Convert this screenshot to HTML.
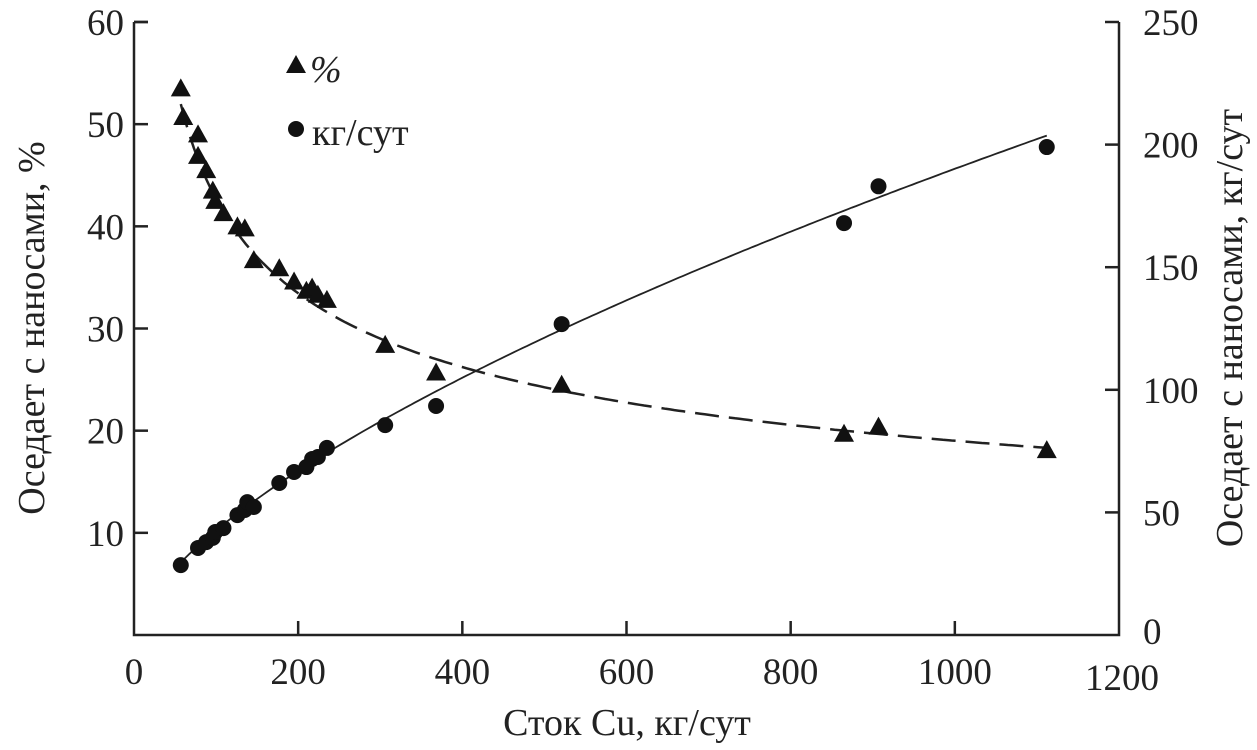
<!DOCTYPE html>
<html><head><meta charset="utf-8"><style>
html,body{margin:0;padding:0;background:#fff;}
svg{display:block;font-family:"Liberation Serif",serif;}
</style></head><body>
<svg id="chart" width="1257" height="750"></svg>
<script>
const xTicks=[0,200,400,600,800,1000,1200];
const yLeftTicks=[10,20,30,40,50,60];
const yRightTicks=[0,50,100,150,200,250];
const triX=[57,60,78,78,88,96,99,109,126,135,146,177,195,210,217,224,235,306,368,521,865,907,1112];
const triY=[53.4,50.6,48.9,46.8,45.4,43.4,42.4,41.2,39.9,39.7,36.6,35.8,34.5,33.6,33.9,33.2,32.7,28.3,25.6,24.4,19.6,20.3,18.0];
const cirX=[57,78,88,96,99,109,126,135,138,146,177,195,210,217,224,235,306,368,521,865,907,1112];
const cirY=[28.5,35.5,37.9,39.6,42,43.6,48.9,51,54.2,52.2,62,66.5,68.5,71.8,72.6,76.3,85.6,93.4,126.8,168,183,199];
const fitA=214.8, fitB=-0.351, fitMin=57, fitMax=1112;

const NS="http://www.w3.org/2000/svg";
const svg=document.getElementById('chart');
const X0=134,X1=1119,YT=22,YB=635;
const sx=v=>X0+(v/1200)*(X1-X0);
const syL=v=>YB-(v/60)*(YB-YT);
const syR=v=>YB-(v/250)*(YB-YT);
function el(t,a,p){const e=document.createElementNS(NS,t);for(const k in a)e.setAttribute(k,a[k]);(p||svg).appendChild(e);return e;}
function txt(s,a){const e=el('text',a);e.textContent=s;return e;}

let ax=el('path',{d:`M${X0},${YT}H${X0}V${YB}H${X1}V${YT}`,fill:'none',stroke:'#222','stroke-width':2.5});


let ax2=el('path',{d:`M${X0},${YT}h14M${X1},${YT}h-14`,fill:'none',stroke:'#222','stroke-width':2.5});



xTicks.forEach(v=>{
 const x=sx(v);
 if(v>0&&v<1200){let t=el('line',{x1:x,x2:x,y1:YB,y2:YB-14,stroke:'#222','stroke-width':2.5});
 
 }
 let l=txt(String(v),{x:v===1200?x+3:x,y:v===1200?690:684,'font-size':37,'text-anchor':'middle',fill:'#222'});
 
 
});
yLeftTicks.forEach(v=>{
 const y=syL(v);
 let t=el('line',{x1:X0,x2:X0+14,y1:y,y2:y,stroke:'#222','stroke-width':2.5});
 
 
 let l=txt(String(v),{x:124,y:y+13,'font-size':37,'text-anchor':'end',fill:'#222'});
 
 
});
yRightTicks.forEach(v=>{
 const y=syR(v);
 if(v>0&&v<250){let t=el('line',{x1:X1,x2:X1-14,y1:y,y2:y,stroke:'#222','stroke-width':2.5});
 
 }
 let l=txt(String(v),{x:1143,y:y+13+(v===0?-4:0),'font-size':37,'text-anchor':'start',fill:'#222'});
 
 
});
let xt=txt('Сток Cu, кг/сут',{x:627,y:735,'font-size':38,'text-anchor':'middle',fill:'#222'});


let yl=txt('Оседает с наносами, %',{x:0,y:0,'font-size':38,'text-anchor':'middle',fill:'#222',transform:'translate(44,328) rotate(-90)'});


let yr=txt('Оседает с наносами, кг/сут',{x:0,y:0,'font-size':38,'text-anchor':'middle',fill:'#222',transform:'translate(1242,328) rotate(-90)'});



// fits
let dp='',sp='';
for(let i=0;i<=200;i++){
 const v=fitMin+(fitMax-fitMin)*i/200;
 const p=fitA*Math.pow(v,fitB);
 dp+=(i?'L':'M')+sx(v).toFixed(1)+','+syL(p).toFixed(1);
 sp+=(i?'L':'M')+sx(v).toFixed(1)+','+syR(v*p/100).toFixed(1);
}
let dl=el('path',{d:dp,fill:'none',stroke:'#222','stroke-width':2.5,'stroke-dasharray':'24,10'});


let sl=el('path',{d:sp,fill:'none',stroke:'#222','stroke-width':1.8});



function tri(x,y){return el('path',{d:`M${x},${y-11}L${x+10},${y+7}L${x-10},${y+7}Z`,fill:'#111'});}
triX.forEach((v,i)=>{
 const t=tri(sx(v),syL(triY[i]));
 
 
});
cirX.forEach((v,i)=>{
 const c=el('circle',{cx:sx(v),cy:syR(cirY[i]),r:8,fill:'#111'});
 
 
});
// legend
const lt=tri(296,66);


let l1=txt('%',{x:310,y:82,'font-size':38,'font-style':'italic',fill:'#222'});


const lc=el('circle',{cx:296,cy:129,r:8,fill:'#111'});


let l2=txt('кг/сут',{x:312,y:145,'font-size':38,fill:'#222'});


</script>
</body></html>
